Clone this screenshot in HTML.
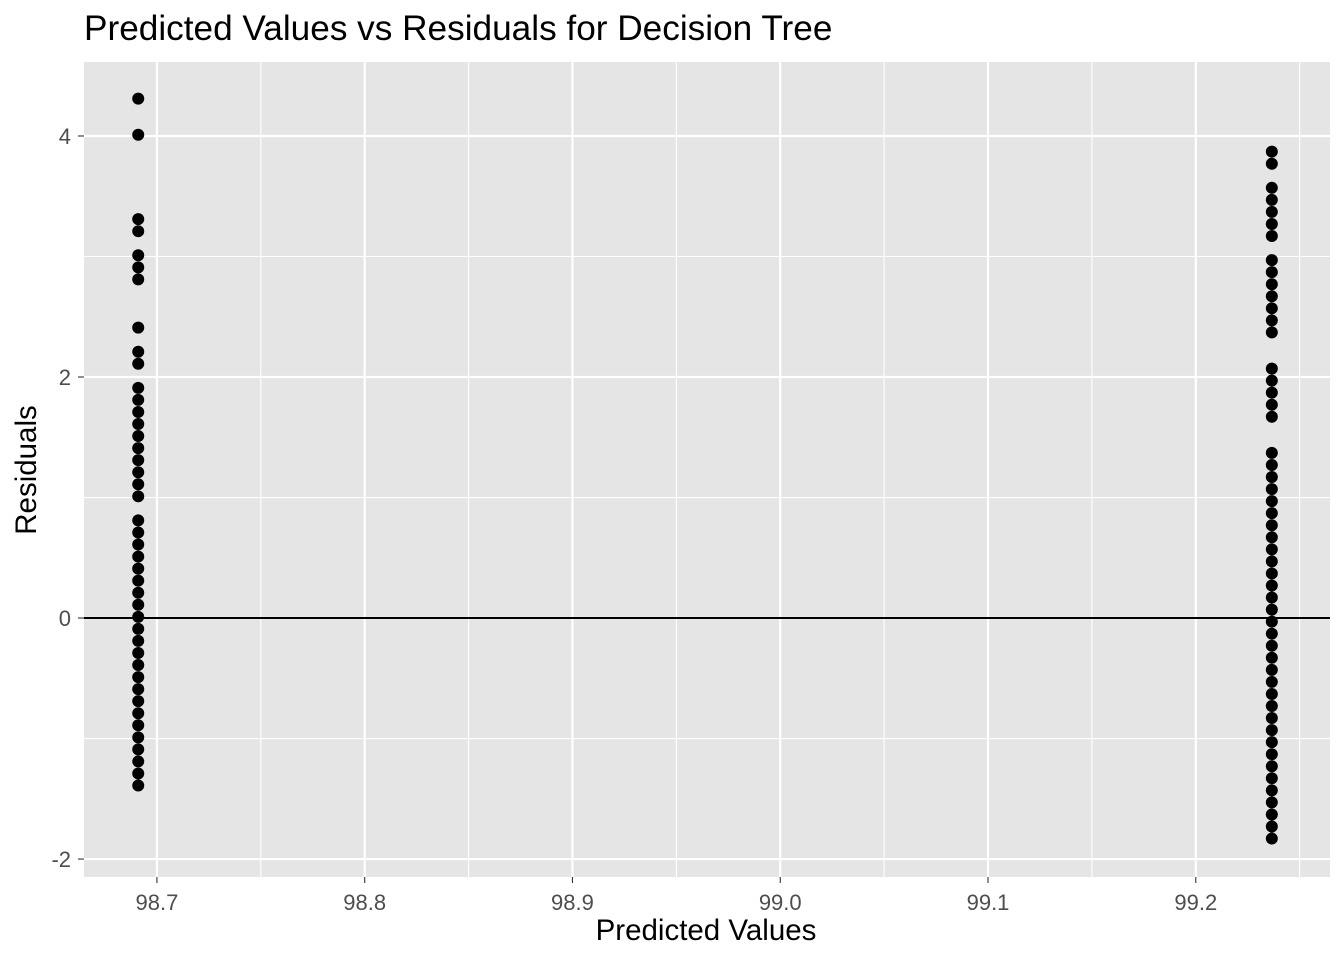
<!DOCTYPE html>
<html><head><meta charset="utf-8"><style>
body{margin:0;background:#fff;font-family:"Liberation Sans",Arial,sans-serif}
</style></head><body>
<svg width="1344" height="960" xmlns="http://www.w3.org/2000/svg" id="chart">
<text x="84" y="40" font-size="35.2" fill="#000">Predicted Values vs Residuals for Decision Tree</text>
<rect x="84" y="62" width="1246" height="815" fill="#e5e5e5"/>
<g id="grid"></g><g id="pts"></g><g id="axes"></g>
<text x="706" y="940" font-size="29.5" text-anchor="middle">Predicted Values</text>
<text transform="translate(36,470) rotate(-90)" font-size="29.5" text-anchor="middle">Residuals</text>
</svg>
<script>
const xTicks=[98.7,98.8,98.9,99.0,99.1,99.2];
const xTickLabels=["98.7","98.8","98.9","99.0","99.1","99.2"];
const yTicks=[-2,0,2,4];
const yTickLabels=["-2","0","2","4"];
const groupX=[98.691,99.2366];
const leftResiduals=[4.31,4.01,3.31,3.21,3.01,2.91,2.81,2.41,2.21,2.11,1.91,1.81,1.71,1.61,1.51,1.41,1.31,1.21,1.11,1.01,0.81,0.71,0.61,0.51,0.41,0.31,0.21,0.11,0.01,-0.09,-0.19,-0.29,-0.39,-0.49,-0.59,-0.69,-0.79,-0.89,-0.99,-1.09,-1.19,-1.29,-1.39];
const rightResiduals=[3.87,3.77,3.57,3.47,3.37,3.27,3.17,2.97,2.87,2.77,2.67,2.57,2.47,2.37,2.07,1.97,1.87,1.77,1.67,1.37,1.27,1.17,1.07,0.97,0.87,0.77,0.67,0.57,0.47,0.37,0.27,0.17,0.07,-0.03,-0.13,-0.23,-0.33,-0.43,-0.53,-0.63,-0.73,-0.83,-0.93,-1.03,-1.13,-1.23,-1.33,-1.43,-1.53,-1.63,-1.73,-1.83];
const NS='http://www.w3.org/2000/svg';
const X0=84,X1=1330,Y0=62,Y1=877,xmin=98.6649,xmax=99.2646,ymin=-2.149,ymax=4.614;
const sx=v=>X0+(v-xmin)/(xmax-xmin)*(X1-X0);
const sy=v=>Y1-(v-ymin)/(ymax-ymin)*(Y1-Y0);
function mk(t,a,p){const e=document.createElementNS(NS,t);for(const k in a)e.setAttribute(k,a[k]);p.appendChild(e);return e;}
const g=document.getElementById('grid'),ax=document.getElementById('axes'),pts=document.getElementById('pts');
for(let i=0;i<xTicks.length;i++){
 const x=sx(xTicks[i]);
 const l=mk('line',{x1:x,x2:x,y1:Y0,y2:Y1,stroke:'#fff','stroke-width':2.2},g);
 
 if(i<xTicks.length-1){const xm=sx((xTicks[i]+xTicks[i+1])/2);
  const m=mk('line',{x1:xm,x2:xm,y1:Y0,y2:Y1,stroke:'#fff','stroke-width':1.1},g);
  }
 mk('line',{x1:x,x2:x,y1:Y1,y2:Y1+6,stroke:'#333','stroke-width':1.1},ax);
 const t=mk('text',{x:x,y:Y1+33,'font-size':22,fill:'#4d4d4d','text-anchor':'middle'},ax);t.textContent=xTickLabels[i];
 
}
const xe=sx(xTicks[xTicks.length-1]+0.05);
const xl=mk('line',{x1:xe,x2:xe,y1:Y0,y2:Y1,stroke:'#fff','stroke-width':1.1},g);

for(let i=0;i<yTicks.length;i++){
 const y=sy(yTicks[i]);
 const l=mk('line',{x1:X0,x2:X1,y1:y,y2:y,stroke:'#fff','stroke-width':2.2},g);
 
 if(i<yTicks.length-1){const ym=sy(yTicks[i]+1);
  const m=mk('line',{x1:X0,x2:X1,y1:ym,y2:ym,stroke:'#fff','stroke-width':1.1},g);
  }
 mk('line',{x1:X0-6,x2:X0,y1:y,y2:y,stroke:'#333','stroke-width':1.1},ax);
 const t=mk('text',{x:X0-13,y:y+8,'font-size':22,fill:'#4d4d4d','text-anchor':'end'},ax);t.textContent=yTickLabels[i];
 
}
[[groupX[0],leftResiduals],[groupX[1],rightResiduals]].forEach(([gx,arr])=>{
 arr.forEach(v=>{const c=mk('circle',{cx:sx(gx),cy:sy(v),r:6,fill:'#000'},pts);
 });
});
const z=mk('line',{x1:X0,x2:X1,y1:sy(0),y2:sy(0),stroke:'#000','stroke-width':2},pts);

</script>
</body></html>
